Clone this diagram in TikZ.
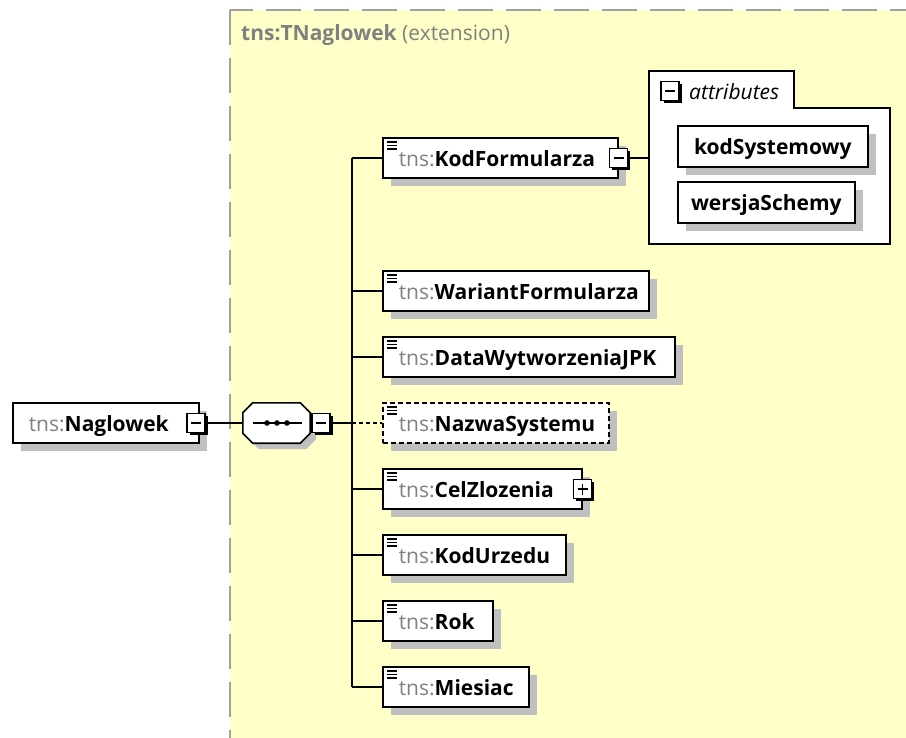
\documentclass[tikz,border=0pt]{standalone}
\usepackage{fontspec}
\setmainfont{Open Sans}
\usetikzlibrary{shadows}
\definecolor{areafill}{RGB}{255,255,200}
\definecolor{areaborder}{RGB}{160,160,160}
\definecolor{prefixgrey}{RGB}{128,128,128}
\definecolor{shadowgrey}{RGB}{192,192,192}
\newcommand\tnsname[1]{{\color{prefixgrey}tns:}\textbf{#1}}
\newcommand\labelfont{\fontsize{21}{24}\selectfont}

\tikzset{
  link/.style={line width=1.8pt},
  basebox/.style={draw, line width=1.6pt, fill=white, minimum height=40pt,
    inner xsep=16pt, inner ysep=0pt, anchor=west, align=left,
    text height=17pt, text depth=0pt,
    drop shadow={shadow xshift=8pt, shadow yshift=-8pt, fill=shadowgrey, opacity=1}},
  elem/.style={basebox, path picture={
    \foreach \dy in {4,7.5,11}
      \draw[solid, line width=1.5pt] ([xshift=4pt,yshift=-\dy pt]path picture bounding box.north west) -- ++(10,0);}},
  optelem/.style={elem, dash pattern=on 5pt off 3pt},
  attrbox/.style={draw, line width=1.6pt, fill=white, minimum height=41pt,
    inner xsep=8pt, inner ysep=0pt, anchor=west, align=center, font=\labelfont\bfseries,
    text height=17pt, text depth=0pt,
    drop shadow={shadow xshift=8pt, shadow yshift=-8pt, fill=shadowgrey, opacity=1}},
  pmbox/.style={draw, line width=1.3pt, fill=white, minimum width=18pt, minimum height=19pt,
    inner sep=0pt, drop shadow={shadow xshift=2.5pt, shadow yshift=-2.5pt, fill=black, opacity=1}},
  collapse/.style={pmbox, path picture={
    \draw[line width=1.3pt] ([xshift=4pt]path picture bounding box.west) -- ([xshift=-4pt]path picture bounding box.east);}},
  expand/.style={pmbox, path picture={
    \draw[line width=1.3pt] ([xshift=4pt]path picture bounding box.west) -- ([xshift=-4pt]path picture bounding box.east);
    \draw[line width=1.3pt] ([yshift=4pt]path picture bounding box.south) -- ([yshift=-4pt]path picture bounding box.north);}},
  seqframe/.style={minimum width=67pt, minimum height=40pt, inner sep=0pt},
}

\begin{document}
\begin{tikzpicture}[x=1pt, y=-1pt, font=\labelfont]
\useasboundingbox (0,0) rectangle (906,738);
\fill[white] (0,0) rectangle (906,738);

% extension area of the complex type
\fill[areafill] (230,10) rectangle (906,738);
\draw[areaborder, line width=2pt, dash pattern=on 35pt off 13pt, dash phase=12pt] (230,10) -- (906,10);
\draw[areaborder, line width=2pt, dash pattern=on 35pt off 13pt] (230,10) -- (230,738);
\node[anchor=west, text=prefixgrey, inner sep=0pt] (title) at (241,35) {\textbf{tns:TNaglowek} (extension)};

% root element and sequence compositor
\node[basebox, text width=154pt] (root) at (12,423) {\tnsname{Naglowek}};
\node[collapse] (rootpm) at (196,423) {};
\node[seqframe] (seq) at (276.5,423) {};
\fill[shadowgrey] ([shift={(16,6)}]seq.north west) -- ([shift={(-4,6)}]seq.north east)
  -- ([shift={(6,16)}]seq.north east) -- ([shift={(6,-4)}]seq.south east)
  -- ([shift={(-4,6)}]seq.south east) -- ([shift={(16,6)}]seq.south west)
  -- ([shift={(6,-4)}]seq.south west) -- ([shift={(6,16)}]seq.north west) -- cycle;
\filldraw[fill=white, line width=1.6pt] ([shift={(10,0)}]seq.north west) -- ([shift={(-10,0)}]seq.north east)
  -- ([shift={(0,10)}]seq.north east) -- ([shift={(0,-10)}]seq.south east)
  -- ([shift={(-10,0)}]seq.south east) -- ([shift={(10,0)}]seq.south west)
  -- ([shift={(0,-10)}]seq.south west) -- ([shift={(0,10)}]seq.north west) -- cycle;
\node[collapse] (seqpm) at (321,423) {};
\draw[link] (rootpm.east) -- (seq.west);
\draw[link] ([xshift=10pt]seq.west) -- ([xshift=-8pt]seq.east);
\foreach \dx in {-9.5,0.5,10.5}
  \fill ([xshift=\dx pt]seq.center) circle (2.8);

% child elements
\coordinate (bus) at (352,0);
\node[elem, text width=203pt] (e1) at (382,158) {\tnsname{KodFormularza}};
\node[elem, text width=234pt] (e2) at (382,291) {\tnsname{WariantFormularza}};
\node[elem, text width=260pt] (e3) at (382,357) {\tnsname{DataWytworzeniaJPK}};
\node[optelem, text width=194pt] (e4) at (382,423) {\tnsname{NazwaSystemu}};
\node[elem, text width=167pt] (e5) at (382,489) {\tnsname{CelZlozenia}};
\node[elem, text width=151pt] (e6) at (382,555) {\tnsname{KodUrzedu}};
\node[elem, text width=78pt] (e7) at (382,621) {\tnsname{Rok}};
\node[elem, text width=114pt] (e8) at (382,687) {\tnsname{Miesiac}};
\node[collapse] (kodpm) at (e1.east) {};
\node[expand] (celpm) at (e5.east) {};

\draw[link] (seqpm.east) -- (bus |- seqpm.east);
\draw[link] (bus |- e1.west) -- (bus |- e8.west);
\foreach \e in {e1,e2,e3,e5,e6,e7,e8}
  \draw[link] (bus |- \e.west) -- (\e.west);
\draw[link, dash pattern=on 4pt off 3pt] (bus |- e4.west) -- (e4.west);

% attribute group of KodFormularza
\coordinate (panel) at (649,158);
\draw[link] (kodpm.east) -- (panel);
\filldraw[fill=white, line width=1.6pt] (649,71) -- (794,71) -- (794,108) -- (890,108) -- (890,244) -- (649,244) -- cycle;
\node[collapse] (attrpm) at (670,91) {};
\node[anchor=west, inner sep=0pt, font=\labelfont\itshape] (attrlabel) at (689,92) {attributes};
\node[attrbox, text width=174pt] (a1) at (677,146.5) {kodSystemowy};
\node[attrbox, text width=161pt] (a2) at (677,202.5) {wersjaSchemy};
\end{tikzpicture}
\end{document}
